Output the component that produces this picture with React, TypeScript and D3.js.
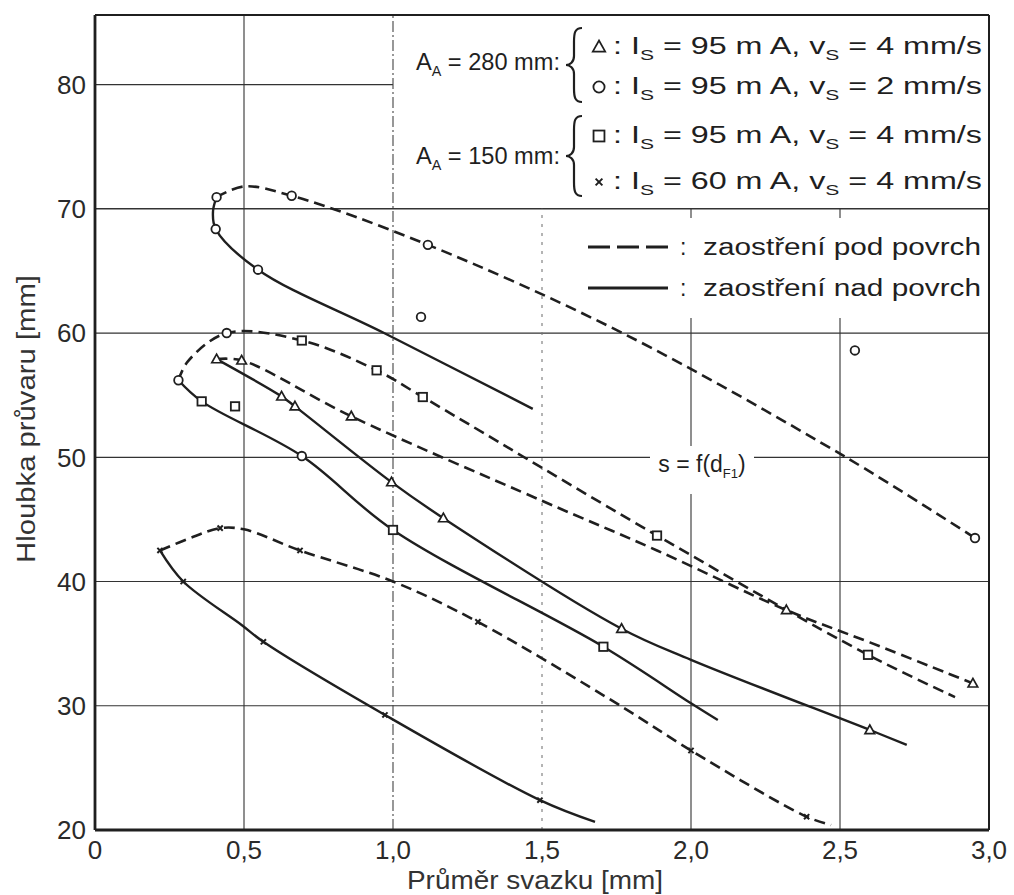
import React from 'react';
import * as d3 from 'd3';

type Pt = [number, number];

// Axis ticks
const xTicks = [0, 0.5, 1, 1.5, 2, 2.5, 3];
const xTickLabels = ['0', '0,5', '1,0', '1,5', '2,0', '2,5', '3,0'];
const yTicks = [20, 30, 40, 50, 60, 70, 80];

// A_A = 280 mm, 95 mA, 2 mm/s  (circles)
const circleUnder: Pt[] = [[0.408, 70.94], [0.5, 71.8], [0.66, 71.05], [1.117, 67.1], [1.77, 60.0], [2.52, 50.0], [2.953, 43.5]];
const circleOver: Pt[] = [[0.408, 70.94], [0.396, 69.8], [0.405, 68.37], [0.547, 65.1], [0.97, 60.0], [1.469, 53.9]];
const circleMarks: Pt[] = [[0.408, 70.94], [0.66, 71.05], [1.117, 67.1], [2.953, 43.5], [0.405, 68.37], [0.547, 65.1], [1.094, 61.3], [2.55, 58.6], [0.442, 60.0], [0.694, 50.1], [0.28, 56.2]];

// A_A = 150 mm, 95 mA, 4 mm/s  (squares)
const squareUnder: Pt[] = [[0.28, 56.2], [0.311, 57.7], [0.442, 60.0], [0.694, 59.4], [0.945, 57.0], [1.1, 54.85], [1.886, 43.7], [2.594, 34.1], [2.886, 30.7]];
const squareOver: Pt[] = [[0.28, 56.2], [0.358, 54.5], [0.694, 50.1], [1.0, 44.15], [1.706, 34.75], [2.0, 30.2], [2.09, 28.85]];
const squareMarks: Pt[] = [[0.358, 54.5], [0.694, 59.4], [0.945, 57.0], [1.1, 54.85], [1.886, 43.7], [2.594, 34.1], [0.47, 54.1], [1.0, 44.15], [1.706, 34.75]];

// A_A = 280 mm, 95 mA, 4 mm/s  (triangles)
const triangleUnder: Pt[] = [[0.408, 57.9], [0.492, 57.8], [0.86, 53.3], [1.5, 46.5], [1.886, 42.5], [2.32, 37.7], [2.6, 35.1], [2.946, 31.8]];
const triangleOver: Pt[] = [[0.408, 57.9], [0.626, 54.9], [0.671, 54.1], [0.995, 48.0], [1.169, 45.1], [1.767, 36.2], [2.0, 33.7], [2.6, 28.05], [2.724, 26.85]];
const triangleMarks: Pt[] = [[0.408, 57.9], [0.492, 57.8], [0.86, 53.3], [0.626, 54.9], [0.671, 54.1], [0.995, 48.0], [1.169, 45.1], [1.767, 36.2], [2.32, 37.7], [2.6, 28.05], [2.946, 31.8]];

// A_A = 150 mm, 60 mA, 4 mm/s  (crosses)
const crossUnder: Pt[] = [[0.218, 42.5], [0.33, 43.6], [0.42, 44.3], [0.5, 44.2], [0.688, 42.5], [1.0, 40.0], [1.285, 36.75], [1.77, 29.9], [2.0, 26.4], [2.388, 21.07], [2.47, 20.4]];
const crossOver: Pt[] = [[0.218, 42.5], [0.296, 40.0], [0.492, 36.5], [0.565, 35.15], [0.973, 29.26], [1.493, 22.4], [1.678, 20.65]];
const crossMarks: Pt[] = [[0.218, 42.5], [0.296, 40.0], [0.42, 44.3], [0.688, 42.5], [1.285, 36.75], [2.0, 26.4], [2.388, 21.07], [0.565, 35.15], [0.973, 29.26], [1.493, 22.4]];

// Legend contents
const legendSymbols = ['triangle', 'circle', 'square', 'cross'];
const legendCurrents = ['95', '95', '95', '60'];
const legendSpeeds = ['4', '2', '4', '4'];
const groupDistances = ['280', '150'];
const lineLegendLabels = ['zaostření pod povrch', 'zaostření nad povrch'];

const W = 1014;
const H = 895;
const FONT = 'Liberation Sans, Arial, Helvetica, sans-serif';
const INK = '#1f1f1f';

const x = d3.scaleLinear().domain([0, 3]).range([95, 989]);
const y = d3.scaleLinear().domain([20, 85.6]).range([830, 15]);

const line = d3
  .line<Pt>()
  .x((d) => x(d[0]))
  .y((d) => y(d[1]))
  .curve(d3.curveCatmullRom.alpha(0.5));

function Marker({ kind, cx, cy, k = 1 }: { kind: string; cx: number; cy: number; k?: number }) {
  if (kind === 'circle') return <circle cx={cx} cy={cy} r={4.3 * k} fill="#fff" stroke={INK} strokeWidth={1.8} />;
  if (kind === 'square')
    return <rect x={cx - 4.2 * k} y={cy - 4.2 * k} width={8.4 * k} height={8.4 * k} fill="#fff" stroke={INK} strokeWidth={1.8} />;
  if (kind === 'triangle')
    return (
      <path
        d={`M${cx},${cy - 5 * k} L${cx + 4.8 * k},${cy + 3.6 * k} L${cx - 4.8 * k},${cy + 3.6 * k} Z`}
        fill="#fff"
        stroke={INK}
        strokeWidth={1.7}
      />
    );
  const s = 2.6 * k;
  return (
    <g stroke={INK} strokeWidth={2}>
      <line x1={cx - s} y1={cy - s} x2={cx + s} y2={cy + s} />
      <line x1={cx - s} y1={cy + s} x2={cx + s} y2={cy - s} />
    </g>
  );
}

function braceD(bx: number, y1: number, y2: number, w: number) {
  const m = (y1 + y2) / 2;
  const c = bx + w * 0.5;
  return `M${bx + w},${y1} C${bx + w * 0.55},${y1} ${c},${y1 + 5} ${c},${y1 + 14} L${c},${m - 9} C${c},${m - 3} ${bx + w * 0.25},${m} ${bx},${m} C${bx + w * 0.25},${m} ${c},${m + 3} ${c},${m + 9} L${c},${y2 - 14} C${c},${y2 - 5} ${bx + w * 0.55},${y2} ${bx + w},${y2}`;
}

export default function App() {
  const rowY = [46, 86, 135, 181];
  const groupY = [62, 156];
  const braceSpan: [number, number][] = [[28, 102], [116, 196]];
  const lineRowY = [247, 288];

  const curves: { pts: Pt[]; dashed: boolean }[] = [
    { pts: circleUnder, dashed: true },
    { pts: circleOver, dashed: false },
    { pts: squareUnder, dashed: true },
    { pts: squareOver, dashed: false },
    { pts: triangleUnder, dashed: true },
    { pts: triangleOver, dashed: false },
    { pts: crossUnder, dashed: true },
    { pts: crossOver, dashed: false },
  ];

  return (
    <svg width={W} height={H} style={{ position: 'absolute', left: 0, top: 0, background: '#fff' }} fontFamily={FONT}>
      <rect x={0} y={0} width={W} height={H} fill="#fff" />

      {/* horizontal grid */}
      {yTicks.filter((t) => t > 20 && t < 80).map((t) => (
        <line key={`h${t}`} x1={x(0)} x2={x(3)} y1={y(t)} y2={y(t)} stroke="#333" strokeWidth={t === 70 ? 1.6 : 1.2} />
      ))}
      <line x1={x(0)} x2={x(1)} y1={y(80)} y2={y(80)} stroke="#333" strokeWidth={1.2} />

      {/* vertical grid */}
      <line x1={x(0.5)} x2={x(0.5)} y1={y(20)} y2={y(85.6)} stroke="#333" strokeWidth={1.1} />
      <line x1={x(1)} x2={x(1)} y1={y(20)} y2={y(85.6)} stroke="#444" strokeWidth={1.1} strokeDasharray="11,3,2,3" />
      <line x1={x(1.5)} x2={x(1.5)} y1={y(20)} y2={y(70)} stroke="#777" strokeWidth={1.1} strokeDasharray="3,6" />
      <line x1={x(2)} x2={x(2)} y1={y(20)} y2={y(70)} stroke="#333" strokeWidth={1.1} />
      <line x1={x(2.5)} x2={x(2.5)} y1={y(20)} y2={y(70)} stroke="#333" strokeWidth={1.1} />

      {/* knock-out areas behind the line-style key and the function label */}
      <rect x={578} y={218} width={408} height={100} fill="#fff" />
      <rect x={650} y={446} width={104} height={48} fill="#fff" />

      {/* frame */}
      <line x1={x(0)} x2={x(3)} y1={y(85.6)} y2={y(85.6)} stroke={INK} strokeWidth={2} />
      <line x1={x(3)} x2={x(3)} y1={y(85.6)} y2={y(20)} stroke={INK} strokeWidth={2} />
      <line x1={x(0)} x2={x(0)} y1={y(85.6)} y2={y(20)} stroke={INK} strokeWidth={2.8} />
      <line x1={x(0)} x2={x(3)} y1={y(20)} y2={y(20)} stroke={INK} strokeWidth={2.8} />

      {/* curves */}
      {curves.map((c, i) => (
        <path
          key={`c${i}`}
          d={line(c.pts) || ''}
          fill="none"
          stroke={INK}
          strokeWidth={c.dashed ? 2.6 : 2.4}
          strokeDasharray={c.dashed ? '11,6' : undefined}
          strokeLinecap="butt"
        />
      ))}

      {/* measured points */}
      {circleMarks.map((p, i) => <Marker key={`o${i}`} kind="circle" cx={x(p[0])} cy={y(p[1])} />)}
      {squareMarks.map((p, i) => <Marker key={`s${i}`} kind="square" cx={x(p[0])} cy={y(p[1])} />)}
      {triangleMarks.map((p, i) => <Marker key={`t${i}`} kind="triangle" cx={x(p[0])} cy={y(p[1])} />)}
      {crossMarks.map((p, i) => <Marker key={`x${i}`} kind="cross" cx={x(p[0])} cy={y(p[1])} />)}

      {/* tick labels */}
      {yTicks.map((t) => (
        <text key={`yl${t}`} x={86} y={y(t)} dy="0.36em" textAnchor="end" fontSize={26} fill="#2a2a2a">
          {t}
        </text>
      ))}
      {xTicks.map((t, i) => (
        <text key={`xl${t}`} x={x(t)} y={859} textAnchor="middle" fontSize={26} fill="#2a2a2a">
          {xTickLabels[i]}
        </text>
      ))}

      {/* axis titles */}
      <text transform="translate(35,419) rotate(-90)" textAnchor="middle" fontSize={26} fill="#333" textLength={288} lengthAdjust="spacingAndGlyphs">
        Hloubka průvaru [mm]
      </text>
      <text x={535} y={889} textAnchor="middle" fontSize={26} fill="#333" textLength={256} lengthAdjust="spacingAndGlyphs">
        Průměr svazku [mm]
      </text>

      {/* parameter key */}
      {groupDistances.map((d, g) => (
        <g key={`g${g}`}>
          <text x={416} y={groupY[g]} dy="0.36em" fontSize={23} fill={INK} textLength={144} lengthAdjust="spacingAndGlyphs">
            A<tspan dy={6} fontSize={14}>A</tspan>
            <tspan dy={-6}>{` = ${d} mm:`}</tspan>
          </text>
          <path d={braceD(566, braceSpan[g][0], braceSpan[g][1], 16)} fill="none" stroke={INK} strokeWidth={2.2} />
        </g>
      ))}
      {legendSymbols.map((s, i) => (
        <g key={`l${i}`}>
          <Marker kind={s} cx={599} cy={rowY[i] + 1} k={1.3} />
          <text x={613} y={rowY[i]} dy="0.36em" fontSize={23} fill={INK} textLength={369} lengthAdjust="spacingAndGlyphs">
            {': I'}
            <tspan dy={6} fontSize={15}>S</tspan>
            <tspan dy={-6}>{` = ${legendCurrents[i]} m A, v`}</tspan>
            <tspan dy={6} fontSize={15}>S</tspan>
            <tspan dy={-6}>{` = ${legendSpeeds[i]} mm/s`}</tspan>
          </text>
        </g>
      ))}

      {/* line-style key */}
      {lineLegendLabels.map((lab, i) => (
        <g key={`k${i}`}>
          <line x1={588} x2={668} y1={lineRowY[i]} y2={lineRowY[i]} stroke={INK} strokeWidth={3} strokeDasharray={i === 0 ? '22,7' : undefined} />
          <text x={680} y={lineRowY[i]} dy="0.36em" fontSize={23} fill={INK}>:</text>
          <text x={703} y={lineRowY[i]} dy="0.36em" fontSize={23} fill={INK} textLength={278} lengthAdjust="spacingAndGlyphs">
            {lab}
          </text>
        </g>
      ))}

      {/* function label */}
      <text x={702} y={464} dy="0.36em" textAnchor="middle" fontSize={23} fill={INK}>
        {'s = f(d'}
        <tspan dy={6} fontSize={13}>F1</tspan>
        <tspan dy={-6}>)</tspan>
      </text>
    </svg>
  );
}
